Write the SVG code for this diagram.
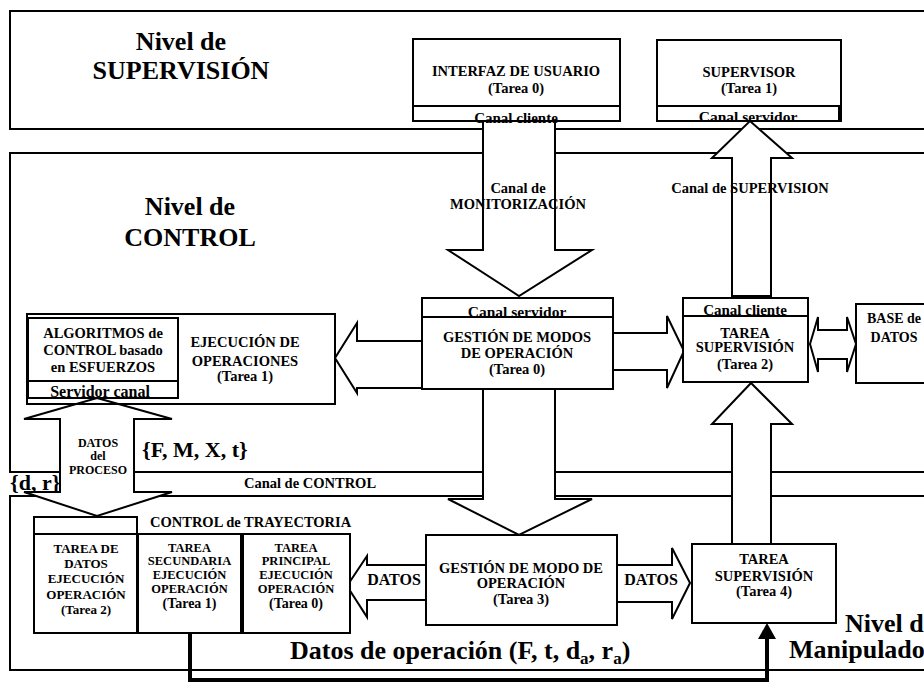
<svg xmlns="http://www.w3.org/2000/svg" width="924" height="682" viewBox="0 0 924 682">
<style>
text{font-family:"Liberation Serif","Times New Roman",serif;font-weight:bold;fill:#000}
.lvl{fill:none;stroke:#000;stroke-width:2}
.box{fill:#fff;stroke:#000;stroke-width:2}
.nofill{fill:none;stroke:#000;stroke-width:2}
.arr{fill:#fff;stroke:#000;stroke-width:2;stroke-linejoin:miter}
.big{font-size:26px}
.t14{font-size:14.5px}
.t13{font-size:13px}
.t12{font-size:12.5px}
.c{text-anchor:middle}
</style>
<rect width="924" height="682" fill="#fff"/>
<g id="levels">
<rect class="lvl" x="10" y="11" width="940" height="118"/>
<rect class="lvl" x="10" y="153" width="940" height="319"/>
<rect class="lvl" x="10" y="496" width="940" height="174"/>
<rect id="canal-control" class="lvl" x="134" y="472" width="820" height="24"/>
<text class="big c" x="181" y="50">Nivel de</text>
<text class="big c" x="181" y="79">SUPERVISIÓN</text>
<text class="big c" x="190" y="215">Nivel de</text>
<text class="big c" x="190" y="246">CONTROL</text>
<text class="big" x="845" y="632">Nivel de</text>
<text class="big" x="789" y="658">Manipulador</text>
<text class="t14 c" x="310" y="488">Canal de CONTROL</text>
</g>
<g id="connectors">
<polygon class="arr" points="483,121 555,121 555,250 592,250 519,296 448,250 483,250"/>
<polygon class="arr" points="732,296 732,158 712,158 750,121 792,158 771,158 771,296"/>
<polygon class="arr" points="422,341 357,341 357,323 335,358 357,393 357,388 422,388"/>
<polygon class="arr" points="613,333 667,333 667,316 684,351 667,388 667,370 613,370"/>
<polygon class="arr" points="810,344 818,317 818,330 847,330 847,317 856,344 847,372 847,359 818,359 818,372"/>
<polygon class="arr" points="483,389 555,389 555,499 592,499 519,535 448,499 483,499"/>
<polygon class="arr" points="732,544 732,424 712,424 751,383 792,424 771,424 771,544"/>
<polygon class="arr" points="97,398 172,419 134,419 134,492 172,492 97,516 24,492 60,492 60,419 24,419"/>
<polygon class="arr" points="427,565 367,565 367,556 347,586 367,617 367,600 427,600"/>
<polygon class="arr" points="617,565 672,565 672,548 690,583 672,619 672,602 617,602"/>
<path d="M190,633 V680 H767 V636" fill="none" stroke="#000" stroke-width="4"/>
<polygon points="767,623 758,639 776,639" fill="#000"/>
<text class="t14 c" x="518" y="193">Canal de</text>
<text class="t14 c" x="518" y="209">MONITORIZACIÓN</text>
<text class="t14 c" x="750" y="193">Canal de SUPERVISION</text>
<text class="c" style="font-size:12px" x="98" y="447">DATOS</text>
<text class="c" style="font-size:12px" x="98" y="460">del</text>
<text class="c" style="font-size:12px" x="98" y="474">PROCESO</text>
<text style="font-size:22px" x="142" y="457">{F, M, X, t}</text>
<text style="font-size:22px" x="10" y="490">{d, r}</text>
<text class="c" style="font-size:16px" x="394" y="585">DATOS</text>
<text class="c" style="font-size:16px" x="651" y="585">DATOS</text>
<text style="font-size:26px" x="290" y="659">Datos de operación (F, t, d<tspan style="font-size:17px" dy="5">a</tspan><tspan dy="-5">, r</tspan><tspan style="font-size:17px" dy="5">a</tspan><tspan dy="-5">)</tspan></text>
</g>
<g id="interfaz">
<rect class="box" x="413" y="39" width="207" height="82"/>
<text class="t14 c" x="516" y="76">INTERFAZ DE USUARIO</text>
<text class="t14 c" x="516" y="93">(Tarea 0)</text>
<text class="c" style="font-size:15px" x="516" y="123">Canal cliente</text>
<line x1="413" y1="106" x2="620" y2="106" stroke="#000" stroke-width="2"/>
<rect class="nofill" x="413" y="106" width="207" height="15"/>
</g>
<g id="supervisor">
<rect class="box" x="657" y="40" width="184" height="81"/>
<text class="t14 c" x="749" y="77">SUPERVISOR</text>
<text class="t14 c" x="749" y="93">(Tarea 1)</text>
<text class="c" style="font-size:15.5px" x="748" y="122">Canal servidor</text>
<line x1="657" y1="106" x2="841" y2="106" stroke="#000" stroke-width="2"/>
<rect class="nofill" x="657" y="106" width="182" height="15"/>
</g>
<g id="gestion-modos">
<rect class="box" x="422" y="298" width="191" height="91"/>
<text class="c" style="font-size:15.5px" x="517" y="317">Canal servidor</text>
<line x1="422" y1="317" x2="613" y2="317" stroke="#000" stroke-width="2"/>
<rect class="nofill" x="422" y="298" width="191" height="91"/>
<text class="t14 c" x="517" y="342">GESTIÓN DE MODOS</text>
<text class="t14 c" x="517" y="358">DE OPERACIÓN</text>
<text class="t14 c" x="517" y="374">(Tarea 0)</text>
</g>
<g id="tarea-supervision-2">
<rect class="box" x="683" y="298" width="125" height="84"/>
<text class="c" style="font-size:15px" x="745" y="315">Canal cliente</text>
<line x1="683" y1="316" x2="808" y2="316" stroke="#000" stroke-width="2"/>
<rect class="nofill" x="683" y="298" width="125" height="84"/>
<text class="t14 c" x="745" y="338">TAREA</text>
<text class="t14 c" x="745" y="352">SUPERVISIÓN</text>
<text class="t14 c" x="745" y="369">(Tarea 2)</text>
</g>
<g id="base-datos">
<rect class="box" x="856" y="304" width="90" height="79"/>
<text style="font-size:14px" class="c" x="894" y="323">BASE de</text>
<text style="font-size:14px" class="c" x="894" y="342">DATOS</text>
</g>
<g id="ejecucion">
<rect class="nofill" x="27" y="314" width="308" height="90"/>
<rect class="box" x="28" y="318" width="150" height="80"/>
<text class="t14 c" x="103" y="338">ALGORITMOS de</text>
<text class="t14 c" x="103" y="355">CONTROL basado</text>
<text class="t14 c" x="103" y="372">en ESFUERZOS</text>
<text class="c" style="font-size:16px" x="100" y="397">Servidor canal</text>
<line x1="28" y1="381" x2="178" y2="381" stroke="#000" stroke-width="2"/>
<rect class="nofill" x="28" y="318" width="150" height="80"/>
<text class="t14 c" x="245" y="347">EJECUCIÓN DE</text>
<text class="t14 c" x="245" y="366">OPERACIONES</text>
<text class="t14 c" x="245" y="381">(Tarea 1)</text>
</g>
<g id="tarea-datos">
<rect class="box" x="34" y="517" width="103" height="17"/>
<rect class="box" x="34" y="534" width="103" height="99"/>
<text class="t13 c" x="86" y="553">TAREA DE</text>
<text class="t13 c" x="86" y="568">DATOS</text>
<text class="t13 c" x="86" y="583">EJECUCIÓN</text>
<text class="t13 c" x="86" y="599">OPERACIÓN</text>
<text class="t13 c" x="86" y="614">(Tarea 2)</text>
</g>
<g id="control-trayectoria">
<text class="t14" x="150" y="527">CONTROL de TRAYECTORIA</text>
</g>
<g id="tarea-secundaria">
<rect class="box" x="138" y="534" width="103" height="99"/>
<text class="t12 c" x="189.5" y="552">TAREA</text>
<text class="t12 c" x="189.5" y="565">SECUNDARIA</text>
<text class="t12 c" x="189.5" y="579">EJECUCIÓN</text>
<text class="t12 c" x="189.5" y="593">OPERACIÓN</text>
<text class="c" style="font-size:14px" x="189.5" y="608">(Tarea 1)</text>
</g>
<g id="tarea-principal">
<rect class="box" x="243" y="534" width="107" height="99"/>
<text class="t12 c" x="296" y="552">TAREA</text>
<text class="t12 c" x="296" y="565">PRINCIPAL</text>
<text class="t12 c" x="296" y="579">EJECUCIÓN</text>
<text class="t12 c" x="296" y="593">OPERACIÓN</text>
<text class="c" style="font-size:14px" x="296" y="608">(Tarea 0)</text>
</g>
<g id="gestion-modo">
<rect class="box" x="426" y="535" width="191" height="90"/>
<text class="t14 c" x="521" y="573">GESTIÓN DE MODO DE</text>
<text class="t14 c" x="521" y="588">OPERACIÓN</text>
<text class="t14 c" x="521" y="604">(Tarea 3)</text>
</g>
<g id="tarea-supervision-4">
<rect class="box" x="692" y="544" width="144" height="79"/>
<text class="t14 c" x="764" y="564">TAREA</text>
<text class="t14 c" x="764" y="581">SUPERVISIÓN</text>
<text class="t14 c" x="764" y="596">(Tarea 4)</text>
</g>
</svg>
